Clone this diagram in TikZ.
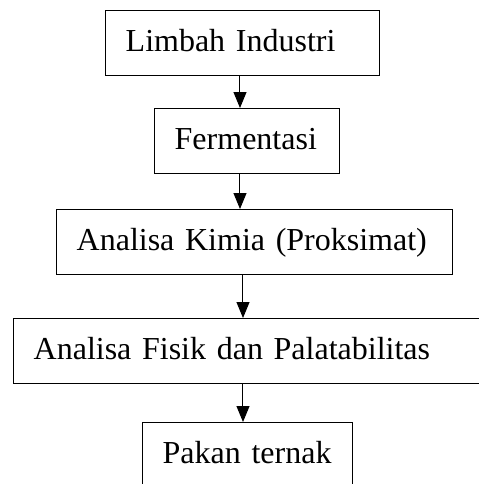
\documentclass[tikz,border=0pt]{standalone}
\usepackage{fontspec}
\setmainfont{Liberation Serif}
\usetikzlibrary{arrows.meta}

\tikzset{
  stepbox/.style={draw, line width=0.7pt, anchor=north west, align=left,
    inner xsep=10pt, minimum height=32.5pt, text height=11.5pt, text depth=3.5pt,
    font=\fontsize{16}{19}\selectfont},
  flowarrow/.style={-{Triangle[width=6.5pt,length=8pt]}, line width=0.5pt}
}

\begin{document}
\begin{tikzpicture}[x=0.5pt,y=-0.5pt]
\useasboundingbox (0,0) rectangle (479,484);
\clip (0,0) rectangle (479,484);
\node[stepbox, text width=117pt] (limbah) at (105,10) {Limbah Industri};
\node[stepbox, text width=72.5pt] (ferm) at (154,108) {Fermentasi};
\node[stepbox, text width=178pt] (kimia) at (56,209) {Analisa Kimia (Proksimat)};
\node[stepbox, text width=223.5pt] (fisik) at (13,318) {Analisa Fisik dan Palatabilitas};
\node[stepbox, text width=85pt] (pakan) at (142,422) {Pakan ternak};
\coordinate (ax1) at (240,0);
\coordinate (ax2) at (243,0);
\draw[flowarrow] (limbah.south -| ax1) -- (ferm.north -| ax1);
\draw[flowarrow] (ferm.south -| ax1) -- (kimia.north -| ax1);
\draw[flowarrow] (kimia.south -| ax2) -- (fisik.north -| ax2);
\draw[flowarrow] (fisik.south -| ax2) -- (pakan.north -| ax2);
\end{tikzpicture}
\end{document}
